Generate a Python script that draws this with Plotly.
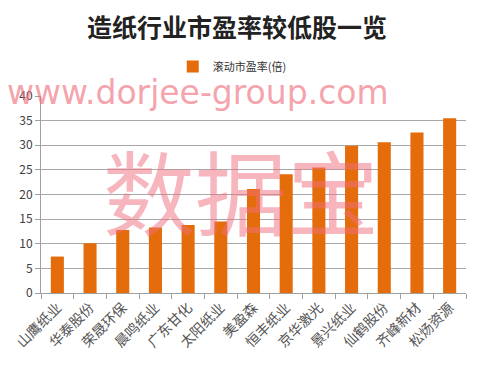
import plotly.graph_objects as go

categories = ["山鹰纸业", "华泰股份", "荣晟环保", "晨鸣纸业", "广东甘化", "太阳纸业", "美盈森",
              "恒丰纸业", "京华激光", "景兴纸业", "仙鹤股份", "齐峰新材", "松炀资源"]
pe_values = [7.4, 10.1, 12.8, 13.3, 13.8, 14.5, 21.1, 24.1, 25.5, 29.9, 30.6, 32.6, 35.5]
series_name = "滚动市盈率(倍)"
y_ticks = [0, 5, 10, 15, 20, 25, 30, 35, 40]

fig = go.Figure()
fig.add_trace(go.Bar(
    x=categories, y=pe_values, name=series_name,
    marker=dict(color="#E46C0A", line=dict(width=0)),
    width=0.4,
))

fig.update_layout(
    width=499, height=373,
    margin=dict(l=41, r=33, t=96, b=80),
    paper_bgcolor="white", plot_bgcolor="white",
    font=dict(family="Noto Sans CJK SC", color="#404040"),
    title=dict(text="<b>造纸行业市盈率较低股一览</b>", x=0.475, xanchor="center",
               y=0.925, yanchor="middle",
               font=dict(size=25, color="#222222", family="Noto Sans CJK SC")),
    showlegend=True,
    legend=dict(orientation="h", x=0.45, xanchor="center", y=1.15, yanchor="middle",
                font=dict(size=11, color="#333333"), itemwidth=30),
    bargap=0.6,
)
fig.update_xaxes(
    showline=True, linecolor="#A0A0A0", linewidth=1,
    ticks="outside", tickson="boundaries", ticklen=5, tickcolor="#A0A0A0",
    tickangle=-45, tickfont=dict(size=14, color="#555555"),
)
fig.update_yaxes(
    range=[0, 40], tickvals=y_ticks, showgrid=True, gridcolor="#A8A8A8", gridwidth=1,
    showline=True, linecolor="#A0A0A0", ticks="outside", ticklen=5, tickcolor="#A0A0A0",
    tickfont=dict(size=12, color="#404040"), zeroline=False,
)

# watermarks
fig.add_annotation(text="www.dorjee-group.com", xref="paper", yref="paper",
                   x=-0.085, xanchor="left", y=1.02, yanchor="middle", showarrow=False,
                   font=dict(size=33, color="rgba(240,110,125,0.65)", family="DejaVu Sans"))
fig.add_annotation(text="数据宝", xref="paper", yref="paper",
                   x=0.47, xanchor="center", y=0.53, yanchor="middle", showarrow=False,
                   font=dict(size=92, color="rgba(240,110,125,0.5)", family="Noto Sans CJK SC"))

fig.write_html("out.html")
